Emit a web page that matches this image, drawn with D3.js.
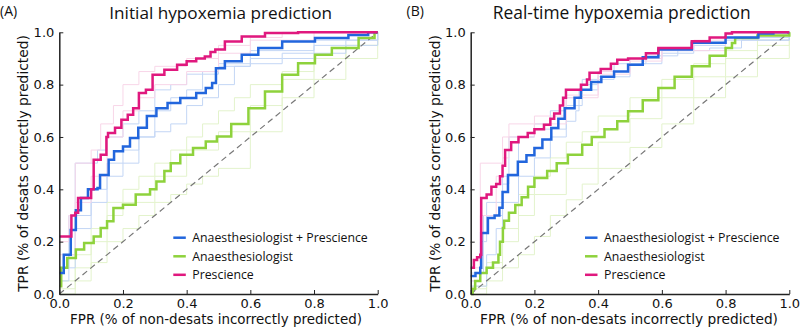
<!DOCTYPE html>
<html><head><meta charset="utf-8">
<script src="https://cdn.jsdelivr.net/npm/d3@7"></script>
<style>body{margin:0;background:#fff}svg{display:block}</style>
</head><body><svg id="c" width="800" height="332"></svg>
<script>
// ---------- data ----------
const ticks = [0.0, 0.2, 0.4, 0.6, 0.8, 1.0];
const seriesNames = ["Anaesthesiologist + Prescience", "Anaesthesiologist", "Prescience"];
const panelLetters = ["(A)", "(B)"];
const panelTitles = ["Initial hypoxemia prediction", "Real-time hypoxemia prediction"];
const xLabel = "FPR (% of non-desats incorrectly predicted)";
const yLabel = "TPR (% of desats correctly predicted)";

// Panel A main curves [FPR, TPR]
const A_both = [[0,0.08],[0.014,0.15],[0.036,0.245],[0.052,0.32],[0.068,0.367],[0.09,0.40],[0.12,0.405],[0.128,0.455],[0.155,0.513],[0.172,0.545],[0.2,0.564],[0.222,0.596],[0.248,0.635],[0.275,0.68],[0.305,0.71],[0.34,0.73],[0.38,0.749],[0.43,0.768],[0.46,0.787],[0.48,0.806],[0.492,0.863],[0.52,0.889],[0.573,0.914],[0.625,0.94],[0.7,0.965],[0.803,0.978],[0.908,0.99],[0.97,1.0],[1,1]];
const A_anae = [[0,0.03],[0.006,0.1],[0.025,0.138],[0.052,0.17],[0.078,0.195],[0.108,0.22],[0.13,0.252],[0.15,0.278],[0.17,0.329],[0.2,0.341],[0.24,0.38],[0.285,0.40],[0.305,0.43],[0.33,0.47],[0.35,0.5],[0.38,0.532],[0.42,0.558],[0.46,0.583],[0.495,0.602],[0.54,0.65],[0.594,0.71],[0.646,0.774],[0.7,0.838],[0.75,0.882],[0.803,0.914],[0.856,0.94],[0.94,0.978],[0.99,1.0],[1,1]];
const A_pres = [[0,0.22],[0.038,0.30],[0.05,0.31],[0.059,0.367],[0.10,0.40],[0.108,0.513],[0.13,0.532],[0.148,0.60],[0.153,0.615],[0.175,0.635],[0.195,0.666],[0.215,0.685],[0.232,0.71],[0.25,0.768],[0.272,0.78],[0.293,0.838],[0.33,0.857],[0.37,0.876],[0.4,0.889],[0.43,0.9],[0.457,0.908],[0.475,0.925],[0.49,0.934],[0.52,0.965],[0.573,0.984],[0.646,0.997],[0.75,1.0],[1,1]];

// Panel A faint individual curves
const A_faint_both = [
  [[0,0.1],[0.03,0.3],[0.05,0.5],[0.1,0.5],[0.12,0.55],[0.15,0.6],[0.2,0.65],[0.25,0.7],[0.3,0.78],[0.35,0.8],[0.4,0.84],[0.5,0.88],[0.6,0.93],[0.8,0.97],[1,1]],
  [[0,0.05],[0.03,0.15],[0.05,0.3],[0.1,0.35],[0.15,0.45],[0.2,0.5],[0.25,0.6],[0.3,0.7],[0.35,0.75],[0.4,0.78],[0.45,0.85],[0.5,0.87],[0.6,0.9],[0.7,0.92],[0.8,0.95],[0.9,0.97],[1,1]],
  [[0,0.1],[0.05,0.25],[0.1,0.4],[0.15,0.5],[0.2,0.55],[0.25,0.6],[0.3,0.62],[0.35,0.65],[0.4,0.72],[0.45,0.75],[0.5,0.8],[0.55,0.87],[0.6,0.88],[0.7,0.9],[0.8,0.92],[0.9,0.95],[1,1]]
];
const A_faint_anae = [
  [[0,0.02],[0.05,0.15],[0.1,0.25],[0.15,0.35],[0.2,0.4],[0.25,0.45],[0.3,0.5],[0.35,0.55],[0.4,0.6],[0.45,0.65],[0.5,0.7],[0.55,0.75],[0.6,0.8],[0.7,0.85],[0.8,0.9],[0.9,0.95],[1,1]],
  [[0,0],[0.05,0.05],[0.1,0.12],[0.15,0.2],[0.2,0.25],[0.25,0.3],[0.3,0.35],[0.35,0.38],[0.4,0.42],[0.45,0.45],[0.5,0.48],[0.6,0.62],[0.7,0.75],[0.8,0.82],[0.9,0.9],[1,1]],
  [[0,0.05],[0.05,0.1],[0.1,0.2],[0.15,0.3],[0.2,0.35],[0.3,0.45],[0.4,0.55],[0.5,0.62],[0.6,0.72],[0.7,0.82],[0.8,0.9],[0.9,0.95],[1,1]]
];
const A_faint_pres = [
  [[0,0.2],[0.03,0.3],[0.05,0.5],[0.1,0.55],[0.13,0.65],[0.17,0.72],[0.2,0.8],[0.25,0.85],[0.3,0.87],[0.4,0.9],[0.5,0.95],[0.6,0.98],[0.7,1],[1,1]],
  [[0,0.15],[0.05,0.35],[0.1,0.45],[0.15,0.6],[0.2,0.7],[0.25,0.75],[0.3,0.8],[0.4,0.85],[0.5,0.92],[0.6,0.97],[0.8,1],[1,1]]
];

// Panel B main curves
const B_both = [[0,0.069],[0.015,0.08],[0.03,0.10],[0.033,0.233],[0.054,0.29],[0.075,0.30],[0.09,0.33],[0.1,0.39],[0.117,0.455],[0.148,0.505],[0.175,0.53],[0.2,0.558],[0.225,0.59],[0.253,0.634],[0.275,0.67],[0.295,0.71],[0.326,0.75],[0.346,0.78],[0.378,0.81],[0.41,0.83],[0.45,0.85],[0.494,0.876],[0.54,0.905],[0.589,0.934],[0.694,0.96],[0.8,0.98],[0.903,0.995],[0.95,1.0],[1,1]];
const B_anae = [[0,0],[0.006,0.02],[0.014,0.05],[0.03,0.08],[0.05,0.1],[0.07,0.12],[0.087,0.15],[0.092,0.2],[0.101,0.252],[0.105,0.28],[0.12,0.31],[0.14,0.34],[0.16,0.37],[0.18,0.41],[0.2,0.443],[0.24,0.47],[0.27,0.5],[0.305,0.532],[0.35,0.57],[0.38,0.6],[0.42,0.63],[0.46,0.66],[0.494,0.698],[0.54,0.74],[0.589,0.787],[0.64,0.83],[0.694,0.87],[0.75,0.91],[0.8,0.94],[0.82,0.959],[0.83,0.978],[0.9,0.988],[1,1]];
const B_pres = [[0,0.10],[0.01,0.13],[0.02,0.14],[0.03,0.15],[0.033,0.367],[0.05,0.38],[0.065,0.41],[0.08,0.42],[0.092,0.45],[0.1,0.49],[0.108,0.55],[0.127,0.58],[0.15,0.6],[0.179,0.615],[0.2,0.63],[0.23,0.647],[0.25,0.67],[0.262,0.69],[0.28,0.72],[0.29,0.75],[0.299,0.78],[0.346,0.80],[0.365,0.82],[0.373,0.845],[0.408,0.86],[0.44,0.88],[0.46,0.895],[0.494,0.9],[0.55,0.92],[0.589,0.94],[0.694,0.966],[0.75,0.98],[0.8,0.995],[0.82,1.0],[1,1]];

const B_faint_both = [
  [[0,0.05],[0.03,0.2],[0.05,0.35],[0.1,0.45],[0.15,0.6],[0.2,0.63],[0.3,0.72],[0.35,0.8],[0.4,0.85],[0.5,0.9],[0.6,0.93],[0.7,0.96],[0.8,0.98],[1,1]],
  [[0,0.03],[0.05,0.15],[0.08,0.25],[0.1,0.35],[0.15,0.45],[0.2,0.52],[0.25,0.6],[0.3,0.66],[0.33,0.7],[0.34,0.78],[0.4,0.83],[0.5,0.88],[0.6,0.92],[0.7,0.95],[0.8,0.97],[1,1]],
  [[0,0.08],[0.04,0.3],[0.1,0.42],[0.12,0.6],[0.2,0.65],[0.25,0.7],[0.3,0.75],[0.35,0.82],[0.45,0.88],[0.55,0.91],[0.65,0.93],[0.75,0.94],[0.85,0.97],[1,1]]
];
const B_faint_anae = [
  [[0,0.02],[0.05,0.12],[0.1,0.25],[0.15,0.38],[0.2,0.45],[0.25,0.52],[0.3,0.58],[0.35,0.62],[0.4,0.68],[0.5,0.75],[0.6,0.82],[0.7,0.88],[0.8,0.93],[0.9,0.97],[1,1]],
  [[0,0],[0.05,0.05],[0.1,0.1],[0.15,0.15],[0.2,0.22],[0.25,0.3],[0.3,0.36],[0.35,0.42],[0.4,0.48],[0.5,0.56],[0.6,0.65],[0.7,0.75],[0.8,0.83],[0.9,0.9],[1,1]],
  [[0,0.03],[0.05,0.1],[0.1,0.2],[0.15,0.3],[0.2,0.38],[0.3,0.48],[0.4,0.58],[0.5,0.67],[0.6,0.75],[0.7,0.83],[0.8,0.9],[0.9,0.95],[1,1]]
];
const B_faint_pres = [
  [[0,0.1],[0.03,0.5],[0.1,0.52],[0.12,0.65],[0.2,0.68],[0.3,0.75],[0.4,0.85],[0.5,0.9],[0.6,0.94],[0.7,0.97],[0.8,1],[1,1]],
  [[0,0.05],[0.03,0.3],[0.08,0.45],[0.1,0.6],[0.2,0.65],[0.3,0.76],[0.4,0.84],[0.5,0.89],[0.6,0.93],[0.8,0.98],[0.9,1],[1,1]]
];

// ---------- drawing ----------
const colors = {both:"#2266dd", anae:"#8ed23c", pres:"#e0187e"};
const faint = {both:"#c3d6f5", anae:"#e3f3cc", pres:"#f8d6e8"};
const svg = d3.select("#c");
const TF = "'Open Sans', 'Noto Sans', sans-serif";
const AF = "'DejaVu Sans', sans-serif";

function fit(sel, w){
  const n = sel.node(); const fs = parseFloat(sel.attr("font-size"));
  const cur = n.getComputedTextLength(); if(cur>0) sel.attr("font-size", (fs*w/cur).toFixed(2));
  return sel;
}

const panels = [
  {x0:59.3, x1:377.7, main:{both:A_both, anae:A_anae, pres:A_pres}, faint:{both:A_faint_both, anae:A_faint_anae, pres:A_faint_pres},
   letterX:0, titleCx:220.7, titleW:223, xlCx:216, xlW:292, ylCx:23, legX:173.3},
  {x0:470.7, x1:789.3, main:{both:B_both, anae:B_anae, pres:B_pres}, faint:{both:B_faint_both, anae:B_faint_anae, pres:B_faint_pres},
   letterX:406.5, titleCx:621.7, titleW:258, xlCx:629, xlW:298, ylCx:435, legX:585}
];
const yTop = 32.3, yBot = 294;

panels.forEach((p, i) => {
  const x = d3.scaleLinear().domain([0,1]).range([p.x0, p.x1]);
  const y = d3.scaleLinear().domain([0,1]).range([yBot, yTop]);
  const g = svg.append("g");
  const line = d3.line().x(d=>x(d[0])).y(d=>y(d[1])).curve(d3.curveStepAfter);

  // faint curves
  ["anae","both","pres"].forEach(k => {
    p.faint[k].forEach(arr => g.append("path").attr("d", line(arr)).attr("fill","none")
      .attr("stroke", faint[k]).attr("stroke-width",1));
  });
  // diagonal
  g.append("path").attr("d", d3.line().x(d=>x(d)).y(d=>y(d))([0,1])).attr("stroke","#777")
    .attr("stroke-width",1.2).attr("stroke-dasharray","6,4").attr("fill","none");
  // main curves
  ["anae","both","pres"].forEach(k => {
    g.append("path").attr("d", line(p.main[k])).attr("fill","none")
      .attr("stroke", colors[k]).attr("stroke-width",2.5).attr("stroke-linejoin","miter");
  });

  // axes
  const xa = g.append("g").attr("transform",`translate(0,${yBot})`)
    .call(d3.axisBottom(x).tickValues(ticks).tickFormat(d3.format(".1f")).tickSizeInner(-4).tickSizeOuter(0).tickPadding(5));
  const ya = g.append("g").attr("transform",`translate(${p.x0},0)`)
    .call(d3.axisLeft(y).tickValues(ticks).tickFormat(d3.format(".1f")).tickSizeInner(-4).tickSizeOuter(0).tickPadding(5));
  [xa, ya].forEach(a => {
    a.select(".domain").attr("stroke","#222").attr("stroke-width",1.5);
    a.selectAll(".tick line").attr("stroke","#222").attr("stroke-width",1);
    a.selectAll("text").attr("font-family",AF).attr("font-size",13).attr("fill","#111");
  });
  xa.selectAll("text").attr("dy","0.71em");

  // titles
  g.append("text").attr("x",p.letterX).attr("y",15.5).attr("font-family",TF).attr("font-size",14)
    .attr("fill","#111").text(panelLetters[i]);
  const t = g.append("text").attr("x",p.titleCx).attr("y",18.5).attr("text-anchor","middle")
    .attr("font-family",TF).attr("font-size",17).attr("font-weight",500).attr("fill","#111").text(panelTitles[i]);
  fit(t, p.titleW);
  const xl = g.append("text").attr("x",p.xlCx).attr("y",324).attr("text-anchor","middle")
    .attr("font-family",AF).attr("font-size",13).attr("fill","#111").text(xLabel);
  fit(xl, p.xlW);
  const yl = g.append("text").attr("transform",`translate(${p.ylCx+5},163.5) rotate(-90)`).attr("text-anchor","middle")
    .attr("font-family",AF).attr("font-size",13).attr("fill","#111").text(yLabel);
  fit(yl, 257);

  // legend
  const keys = ["both","anae","pres"];
  const rows = [237.7, 256.3, 274.8];
  let fsz = null;
  keys.forEach((k, j) => {
    g.append("line").attr("x1",p.legX).attr("x2",p.legX+12.5).attr("y1",rows[j]).attr("y2",rows[j])
      .attr("stroke",colors[k]).attr("stroke-width",2.5);
    const tx = g.append("text").attr("x",p.legX+19).attr("y",rows[j]).attr("dy","0.35em")
      .attr("font-family",TF).attr("font-size",12.5).attr("fill","#111").text(seriesNames[j]);
    if(j===0){ fit(tx, 175.5); fsz = tx.attr("font-size"); } else tx.attr("font-size", fsz);
  });
});
</script></body></html>
